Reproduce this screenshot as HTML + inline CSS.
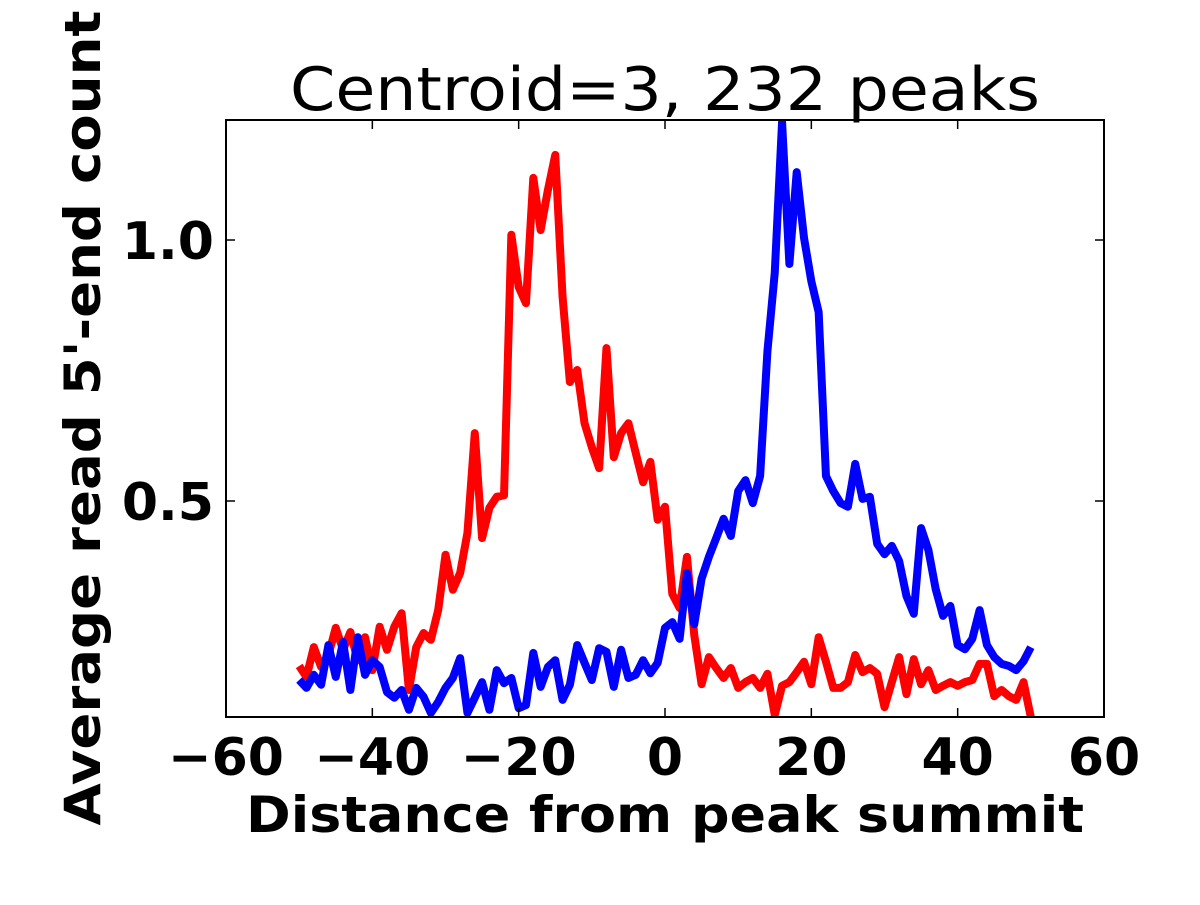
<!DOCTYPE html>
<html><head><meta charset="utf-8"><style>
html,body{margin:0;padding:0;background:#fff;}
svg text{font-family:"DejaVu Sans","Liberation Sans",sans-serif;}
</style></head><body>
<svg id="chart" width="1200" height="900" viewBox="0 0 1200 900" xmlns="http://www.w3.org/2000/svg">
<rect width="1200" height="900" fill="#fff"/>
<defs><clipPath id="clip"><rect x="226" y="120" width="878" height="597"/></clipPath></defs>
<g id="series" clip-path="url(#clip)"></g>
<g id="axes"></g>
<text x="665" y="110" font-size="60" text-anchor="middle" textLength="750" lengthAdjust="spacingAndGlyphs">Centroid=3, 232 peaks</text>
<text x="665" y="832" font-size="50" font-weight="bold" text-anchor="middle" textLength="838" lengthAdjust="spacingAndGlyphs">Distance from peak summit</text>
<text transform="translate(100,418) rotate(-90)" font-size="50" font-weight="bold" text-anchor="middle" textLength="815" lengthAdjust="spacingAndGlyphs">Average read 5'-end count</text>
</svg>
<script>
const xPositions = [];
for (let i = -50; i <= 50; i++) xPositions.push(i);
const redValues = [0.184,0.163,0.220,0.182,0.205,0.257,0.215,0.249,0.195,0.239,0.176,0.259,0.215,0.259,0.285,0.138,0.220,0.247,0.234,0.291,0.397,0.330,0.362,0.439,0.630,0.429,0.487,0.508,0.511,1.010,0.910,0.879,1.119,1.019,1.096,1.163,0.891,0.728,0.751,0.649,0.603,0.563,0.793,0.584,0.630,0.649,0.592,0.536,0.575,0.464,0.489,0.322,0.295,0.393,0.243,0.149,0.201,0.180,0.161,0.180,0.142,0.153,0.161,0.142,0.169,0.090,0.146,0.153,0.172,0.192,0.149,0.239,0.192,0.142,0.142,0.153,0.205,0.172,0.180,0.169,0.105,0.153,0.201,0.130,0.197,0.149,0.176,0.138,0.146,0.153,0.146,0.153,0.157,0.188,0.188,0.126,0.138,0.126,0.119,0.153,0.086];
const blueValues = [0.157,0.142,0.167,0.148,0.224,0.163,0.230,0.138,0.239,0.167,0.195,0.182,0.134,0.123,0.138,0.100,0.142,0.125,0.094,0.115,0.142,0.161,0.199,0.094,0.123,0.153,0.100,0.176,0.151,0.161,0.103,0.109,0.209,0.144,0.182,0.195,0.119,0.148,0.224,0.190,0.157,0.218,0.211,0.144,0.215,0.161,0.167,0.195,0.170,0.190,0.257,0.268,0.236,0.362,0.264,0.351,0.393,0.429,0.466,0.433,0.519,0.540,0.496,0.548,0.787,0.937,1.226,0.954,1.130,1.004,0.921,0.862,0.548,0.519,0.496,0.489,0.571,0.504,0.508,0.418,0.398,0.414,0.385,0.318,0.284,0.448,0.406,0.331,0.280,0.299,0.224,0.216,0.236,0.291,0.224,0.201,0.188,0.184,0.176,0.193,0.220];
const xTicks = [-60,-40,-20,0,20,40,60];
const xTickLabels = ["\u221260","\u221240","\u221220","0","20","40","60"];
const yTicks = [0.5,1.0];
const yTickLabels = ["0.5","1.0"];

const L=226,R=1104,T=120,B=717, XMIN=-60,XMAX=60, YMIN=0.0862,YMAX=1.2299;
const sx = v => L + (v-XMIN)/(XMAX-XMIN)*(R-L);
const sy = v => B - (v-YMIN)/(YMAX-YMIN)*(B-T);
const NS="http://www.w3.org/2000/svg";
const series=document.getElementById('series'), axes=document.getElementById('axes');
function mk(tag, attrs, parent){const e=document.createElementNS(NS,tag);for(const k in attrs)e.setAttribute(k,attrs[k]);parent.appendChild(e);return e;}
function line(vals,color,name){
  const d=vals.map((v,i)=>(i?'L':'M')+sx(xPositions[i]).toFixed(2)+','+sy(v).toFixed(2)).join('');
  const p=mk('path',{d:d,fill:'none',stroke:color,'stroke-width':8,'stroke-linejoin':'round','stroke-linecap':'butt'},series);
  
  
}
line(redValues,'#ff0000','red-series-line');
line(blueValues,'#0000ff','blue-series-line');
const frame=mk('rect',{x:L,y:T,width:R-L,height:B-T,fill:'none',stroke:'#000','stroke-width':2},axes);


xTicks.forEach((t,i)=>{
  const x=sx(t);
  mk('line',{x1:x,x2:x,y1:B,y2:B-9,stroke:'#000','stroke-width':1.5},axes);
  mk('line',{x1:x,x2:x,y1:T,y2:T+9,stroke:'#000','stroke-width':1.5},axes);
  const tx=mk('text',{x:x,y:B+58,'font-size':52,'font-weight':'bold','text-anchor':'middle'},axes);
  tx.textContent=xTickLabels[i];
  
  
});
yTicks.forEach((t,i)=>{
  const y=sy(t);
  mk('line',{x1:L,x2:L+9,y1:y,y2:y,stroke:'#000','stroke-width':1.5},axes);
  mk('line',{x1:R,x2:R-9,y1:y,y2:y,stroke:'#000','stroke-width':1.5},axes);
  const tx=mk('text',{x:214,y:y+19,'font-size':52,'font-weight':'bold','text-anchor':'end'},axes);
  tx.textContent=yTickLabels[i];
  
  
});
</script>
</body></html>
